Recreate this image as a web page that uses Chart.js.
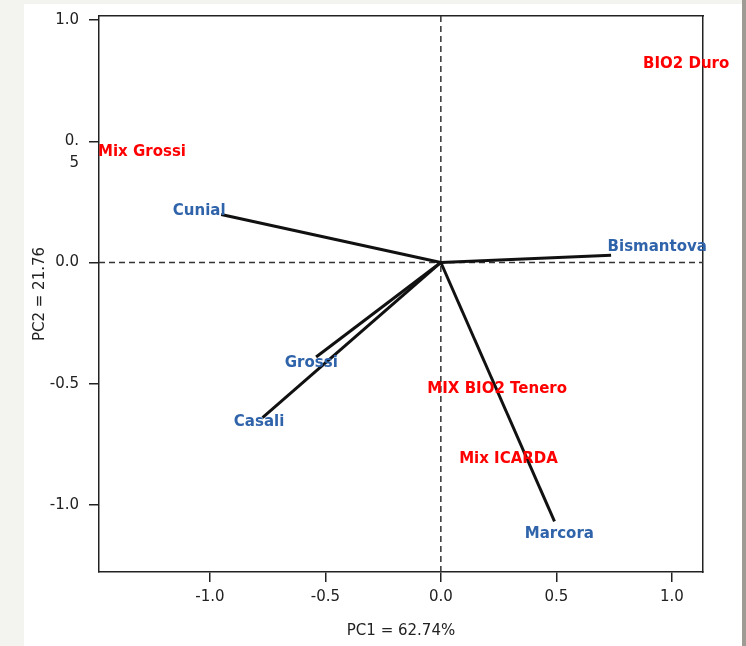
<!DOCTYPE html>
<html><head><meta charset="utf-8">
<script src="https://cdn.jsdelivr.net/npm/chart.js@4.4.1/dist/chart.umd.min.js"></script>
<style>
html,body{margin:0;padding:0;width:746px;height:646px;overflow:hidden;background:#f3f3ef;}
#panel{position:absolute;left:24px;top:4px;width:718px;height:642px;background:#fff;}
#edge{position:absolute;left:742px;top:0;width:4px;height:646px;background:#9d9b93;}
#wrap{position:absolute;left:0;top:0;width:746px;height:646px;}
</style></head><body>
<div id="panel"></div><div id="edge"></div>
<div id="wrap"><canvas id="c" width="746" height="646"></canvas></div>
<script>
// Variable loadings (vectors)
const variableNames = ["Cunial", "Bismantova", "Grossi", "Casali", "Marcora"];
const vectorX = [-0.951, 0.737, -0.540, -0.772, 0.492];
const vectorY = [0.198, 0.030, -0.390, -0.640, -1.068];
const variableLabelX = [-1.046, 0.937, -0.561, -0.787, 0.513];
const variableLabelY = [0.213, 0.064, -0.417, -0.658, -1.119];
// Sample labels
const sampleNames = ["Mix Grossi", "BIO2 Duro", "MIX BIO2 Tenero", "Mix ICARDA"];
const sampleX = [-1.294, 1.062, 0.244, 0.293];
const sampleY = [0.454, 0.819, -0.523, -0.812];
// Axes
const xTicks = [-1.0, -0.5, 0.0, 0.5, 1.0];
const xTickLabels = ["-1.0", "-0.5", "0.0", "0.5", "1.0"];
const yTicks = [-1.0, -0.5, 0.0, 0.5, 1.0];
const yTickLabels = ["-1.0", "-0.5", "0.0", ["", "0.", "5"], "1.0"];
const xRange = [-1.48, 1.135];
const yRange = [-1.277, 1.017];
const xTitle = "PC1 = 62.74%";
const yTitle = "PC2 = 21.76";

Chart.defaults.font.family = '"DejaVu Sans", Verdana, sans-serif';
Chart.defaults.color = '#222';

const INK = '#222';
const vectorSets = variableNames.map((n, i) => ({
  label: n,
  data: [{x: 0, y: 0}, {x: vectorX[i], y: vectorY[i]}],
  borderColor: '#111', borderWidth: 3, pointRadius: 0, showLine: true, borderCapStyle: 'butt'
}));
const dashSets = [
  {label: 'v0', data: [{x: 0, y: yRange[0]}, {x: 0, y: yRange[1]}]},
  {label: 'h0', data: [{x: xRange[0], y: 0}, {x: xRange[1], y: 0}]}
].map(d => Object.assign(d, {borderColor: '#333', borderWidth: 1.5, borderDash: [6, 4], pointRadius: 0, showLine: true}));

const labelPlugin = {
  id: 'labels',
  afterDraw(chart) {
    const ctx = chart.ctx, xs = chart.scales.x, ys = chart.scales.y;
    ctx.save();
    ctx.font = 'bold 15px "DejaVu Sans", Verdana, sans-serif';
    ctx.textAlign = 'center';
    ctx.textBaseline = 'middle';
    ctx.fillStyle = '#2f63aa';
    variableNames.forEach((n, i) => ctx.fillText(n, xs.getPixelForValue(variableLabelX[i]), ys.getPixelForValue(variableLabelY[i])));
    ctx.fillStyle = '#ff0000';
    sampleNames.forEach((n, i) => ctx.fillText(n, xs.getPixelForValue(sampleX[i]), ys.getPixelForValue(sampleY[i])));
    ctx.restore();
  }
};

const gridOpts = {drawOnChartArea: false, drawTicks: true, tickLength: 10, color: INK, lineWidth: 1.5};
const borderOpts = {display: true, color: INK, width: 1.5};
const noPad = s => { s.paddingTop = 0; s.paddingBottom = 0; s.paddingLeft = 0; s.paddingRight = 0; };

new Chart(document.getElementById('c'), {
  type: 'scatter',
  data: {datasets: vectorSets.concat(dashSets)},
  options: {
    responsive: false, animation: false, devicePixelRatio: 1,
    layout: {padding: {left: 0, right: 43, top: 16, bottom: 0}},
    plugins: {legend: {display: false}, tooltip: {enabled: false}},
    scales: {
      x: {
        type: 'linear', position: 'bottom', min: xRange[0], max: xRange[1],
        afterBuildTicks: s => { s.ticks = xTicks.map(v => ({value: v})); },
        afterFit: s => { s.height = 74; noPad(s); },
        ticks: {callback: (v, i) => xTickLabels[i], font: {size: 15, lineHeight: 1.2}, color: INK, padding: 6, autoSkip: false, maxRotation: 0},
        grid: gridOpts, border: borderOpts,
        title: {display: true, text: xTitle, color: INK, font: {size: 15, lineHeight: 1.2}, padding: {top: 0, bottom: 6}}
      },
      y: {
        type: 'linear', position: 'left', min: yRange[0], max: yRange[1],
        afterBuildTicks: s => { s.ticks = yTicks.map(v => ({value: v})); },
        afterFit: s => { s.width = 99; noPad(s); },
        ticks: {callback: (v, i) => yTickLabels[i], font: {size: 15, lineHeight: 1.45}, color: INK, padding: 10, autoSkip: false},
        grid: gridOpts, border: borderOpts,
        title: {display: true, text: yTitle, color: INK, font: {size: 15, lineHeight: 1.2}, padding: {top: 31, bottom: 0}}
      },
      x2: {
        type: 'linear', position: 'top', min: xRange[0], max: xRange[1],
        ticks: {display: false}, grid: {display: false, drawTicks: false}, border: borderOpts,
        afterFit: s => { s.height = 0; noPad(s); }
      },
      y2: {
        type: 'linear', position: 'right', min: yRange[0], max: yRange[1],
        ticks: {display: false}, grid: {display: false, drawTicks: false}, border: borderOpts,
        afterFit: s => { s.width = 0; noPad(s); }
      }
    }
  },
  plugins: [labelPlugin]
});
</script>
</body></html>
